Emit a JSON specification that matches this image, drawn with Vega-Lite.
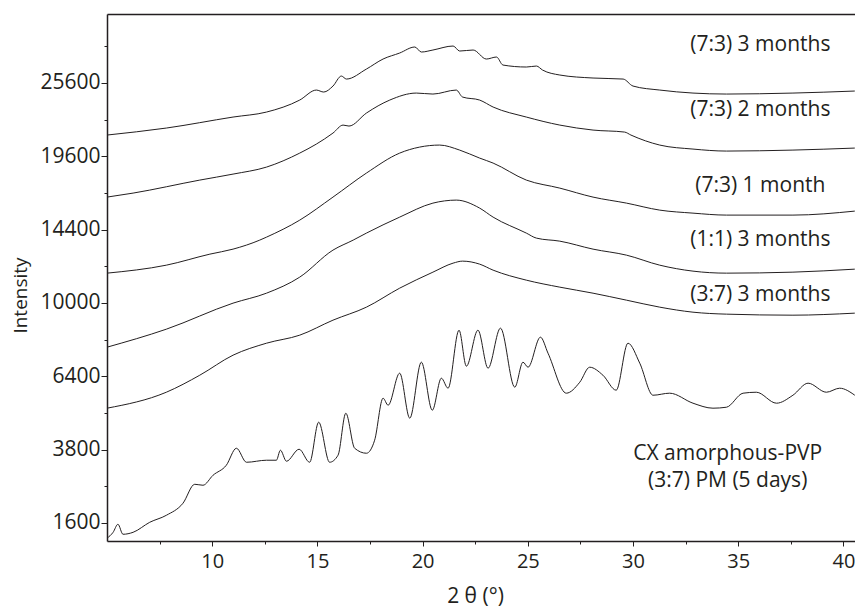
{
  "$schema": "https://vega.github.io/schema/vega-lite/v6.json",
  "width": 748,
  "height": 527,
  "autosize": "none",
  "padding": {"left": 107, "top": 14, "right": 0, "bottom": 67},
  "config": {"view": {"stroke": null}, "font": "Open Sans"},
  "datasets": {
    "curves": [
      {"series":"A","x":5,"y":21255},{"series":"A","x":7.82,"y":21815},{"series":"A","x":10.99,"y":22710},{"series":"A","x":12.58,"y":23122},{"series":"A","x":14.16,"y":24128},{"series":"A","x":14.95,"y":24983},{"series":"A","x":15.3,"y":24812},{"series":"A","x":15.74,"y":25329},{"series":"A","x":16.14,"y":26205},{"series":"A","x":16.38,"y":25940},{"series":"A","x":17.33,"y":26827},{"series":"A","x":18.12,"y":27729},{"series":"A","x":18.91,"y":28278},{"series":"A","x":19.63,"y":28832},{"series":"A","x":19.94,"y":28369},{"series":"A","x":20.49,"y":28554},{"series":"A","x":21.45,"y":28924},{"series":"A","x":21.76,"y":28460},{"series":"A","x":22.4,"y":28554},{"series":"A","x":23.03,"y":27729},{"series":"A","x":23.51,"y":27912},{"series":"A","x":23.82,"y":27185},{"series":"A","x":24.93,"y":27008},{"series":"A","x":25.41,"y":27096},{"series":"A","x":25.7,"y":26739},{"series":"A","x":26.52,"y":26296},{"series":"A","x":28.1,"y":26031},{"series":"A","x":29.53,"y":25940},{"series":"A","x":30,"y":25329},{"series":"A","x":31.27,"y":24983},{"series":"A","x":32.85,"y":24724},{"series":"A","x":34.44,"y":24640},{"series":"A","x":37.6,"y":24724},{"series":"A","x":40.54,"y":24898},
      {"series":"B","x":5,"y":16607},{"series":"B","x":6.24,"y":16890},{"series":"B","x":9.41,"y":17825},{"series":"B","x":10.99,"y":18263},{"series":"B","x":12.58,"y":18783},{"series":"B","x":14.16,"y":19844},{"series":"B","x":14.95,"y":20543},{"series":"B","x":15.74,"y":21412},{"series":"B","x":16.22,"y":22055},{"series":"B","x":16.5,"y":21975},{"series":"B","x":17.33,"y":23040},{"series":"B","x":18.44,"y":24128},{"series":"B","x":19.7,"y":24724},{"series":"B","x":20.49,"y":24640},{"series":"B","x":21.6,"y":24983},{"series":"B","x":21.9,"y":24383},{"series":"B","x":22.71,"y":24128},{"series":"B","x":23.35,"y":23541},{"series":"B","x":24.93,"y":22710},{"series":"B","x":26.52,"y":22055},{"series":"B","x":28.1,"y":21653},{"series":"B","x":29.6,"y":21492},{"series":"B","x":29.9,"y":21255},{"series":"B","x":31.27,"y":20466},{"series":"B","x":32.85,"y":20155},{"series":"B","x":34.44,"y":20000},{"series":"B","x":37.6,"y":20076},{"series":"B","x":40.54,"y":20232},
      {"series":"C","x":5,"y":11692},{"series":"C","x":7.82,"y":12168},{"series":"C","x":9.89,"y":12841},{"series":"C","x":10.99,"y":13151},{"series":"C","x":12.26,"y":13722},{"series":"C","x":12.58,"y":13912},{"series":"C","x":14.16,"y":15028},{"series":"C","x":15.74,"y":16607},{"series":"C","x":17.33,"y":18339},{"series":"C","x":18.91,"y":19844},{"series":"C","x":19.86,"y":20309},{"series":"C","x":20.81,"y":20466},{"series":"C","x":21.76,"y":20076},{"series":"C","x":22.71,"y":19463},{"series":"C","x":23.35,"y":19085},{"series":"C","x":24.93,"y":17825},{"series":"C","x":26.52,"y":17245},{"series":"C","x":28.1,"y":16607},{"series":"C","x":29.69,"y":16187},{"series":"C","x":31.27,"y":15705},{"series":"C","x":32.85,"y":15500},{"series":"C","x":34.44,"y":15366},{"series":"C","x":37.6,"y":15366},{"series":"C","x":40.54,"y":15638},
      {"series":"D","x":5,"y":7733},{"series":"D","x":7.82,"y":8621},{"series":"D","x":10.99,"y":9990},{"series":"D","x":12.58,"y":10541},{"series":"D","x":14.16,"y":11458},{"series":"D","x":15.74,"y":13090},{"series":"D","x":16.7,"y":13722},{"series":"D","x":17.33,"y":14173},{"series":"D","x":18.91,"y":15230},{"series":"D","x":20.49,"y":16187},{"series":"D","x":21.6,"y":16397},{"series":"D","x":22.71,"y":15843},{"series":"D","x":23.35,"y":15230},{"series":"D","x":24.93,"y":14173},{"series":"D","x":25.41,"y":13849},{"series":"D","x":26.52,"y":13656},{"series":"D","x":28.1,"y":13151},{"series":"D","x":29.69,"y":12778},{"series":"D","x":31.27,"y":12168},{"series":"D","x":32.85,"y":11811},{"series":"D","x":34.44,"y":11692},{"series":"D","x":37.6,"y":11751},{"series":"D","x":40.54,"y":11929},
      {"series":"E","x":5,"y":5084},{"series":"E","x":7.82,"y":5724},{"series":"E","x":9.41,"y":6448},{"series":"E","x":10.99,"y":7355},{"series":"E","x":12.58,"y":7926},{"series":"E","x":14.16,"y":8321},{"series":"E","x":15.74,"y":9084},{"series":"E","x":17.33,"y":9773},{"series":"E","x":18.91,"y":10824},{"series":"E","x":20.49,"y":11751},{"series":"E","x":21.45,"y":12290},{"series":"E","x":21.9,"y":12412},{"series":"E","x":22.71,"y":12230},{"series":"E","x":23.35,"y":11870},{"series":"E","x":24.93,"y":11283},{"series":"E","x":26.52,"y":10881},{"series":"E","x":28.1,"y":10541},{"series":"E","x":29.69,"y":10153},{"series":"E","x":31.27,"y":9773},{"series":"E","x":32.85,"y":9504},{"series":"E","x":34.44,"y":9399},{"series":"E","x":37.6,"y":9345},{"series":"E","x":40.54,"y":9452},
      {"series":"F","x":5,"y":1284},{"series":"F","x":5.29,"y":1403},{"series":"F","x":5.52,"y":1572},{"series":"F","x":5.76,"y":1363},{"series":"F","x":6.24,"y":1403},{"series":"F","x":7.03,"y":1615},{"series":"F","x":7.82,"y":1772},{"series":"F","x":8.61,"y":2059},{"series":"F","x":9.17,"y":2556},{"series":"F","x":9.56,"y":2529},{"series":"F","x":10.04,"y":2811},{"series":"F","x":10.67,"y":3107},{"series":"F","x":11.15,"y":3646},{"series":"F","x":11.63,"y":3199},{"series":"F","x":12.58,"y":3262},{"series":"F","x":13.05,"y":3262},{"series":"F","x":13.24,"y":3581},{"series":"F","x":13.53,"y":3231},{"series":"F","x":14.13,"y":3613},{"series":"F","x":14.63,"y":3199},{"series":"F","x":15.06,"y":4554},{"series":"F","x":15.58,"y":3199},{"series":"F","x":15.98,"y":3419},{"series":"F","x":16.35,"y":4890},{"series":"F","x":16.77,"y":3646},{"series":"F","x":17.33,"y":3483},{"series":"F","x":17.72,"y":3915},{"series":"F","x":18.12,"y":5480},{"series":"F","x":18.36,"y":5201},{"series":"F","x":18.91,"y":6537},{"series":"F","x":19.39,"y":4702},{"series":"F","x":19.94,"y":7031},{"series":"F","x":20.46,"y":5006},{"series":"F","x":20.89,"y":6317},{"series":"F","x":21.21,"y":5891},{"series":"F","x":21.73,"y":8571},{"series":"F","x":22.08,"y":6849},{"series":"F","x":22.63,"y":8571},{"series":"F","x":23.11,"y":6758},{"series":"F","x":23.7,"y":8673},{"series":"F","x":24.38,"y":5934},{"series":"F","x":24.77,"y":7031},{"series":"F","x":25.01,"y":6803},{"series":"F","x":25.6,"y":8221},{"series":"F","x":25.96,"y":7448},{"series":"F","x":26.83,"y":5684},{"series":"F","x":27.47,"y":6145},{"series":"F","x":27.94,"y":6803},{"series":"F","x":28.57,"y":6448},{"series":"F","x":29.2,"y":5808},{"series":"F","x":29.76,"y":7926},{"series":"F","x":30.32,"y":6986},{"series":"F","x":30.95,"y":5601},{"series":"F","x":31.74,"y":5684},{"series":"F","x":32.85,"y":5280},{"series":"F","x":33.8,"y":5084},{"series":"F","x":34.44,"y":5122},{"series":"F","x":35.23,"y":5684},{"series":"F","x":35.86,"y":5724},{"series":"F","x":36.82,"y":5280},{"series":"F","x":37.6,"y":5601},{"series":"F","x":38.32,"y":6103},{"series":"F","x":39.19,"y":5724},{"series":"F","x":39.82,"y":5891},{"series":"F","x":40.54,"y":5601}
    ],
    "labels": [
      {"label":"(7:3) 3 months","x":36.05,"y":29016},
      {"label":"(7:3) 2 months","x":36.05,"y":23290},
      {"label":"(7:3) 1 month","x":36.05,"y":17390},
      {"label":"(1:1) 3 months","x":36.05,"y":13722},
      {"label":"(3:7) 3 months","x":36.05,"y":10431},
      {"label":"CX amorphous-PVP","x":34.5,"y":3452},
      {"label":"(3:7) PM (5 days)","x":34.5,"y":2640}
    ]
  },
  "layer": [
    {
      "data": {"name": "curves"},
      "mark": {"type": "line", "strokeWidth": 1, "color": "#231f20", "clip": true, "interpolate": "monotone"},
      "encoding": {
        "x": {
          "field": "x", "type": "quantitative",
          "scale": {"domain": [5, 40.55], "nice": false, "zero": false},
          "axis": {
            "orient": "bottom",
            "values": [7.5, 10, 12.5, 15, 17.5, 20, 22.5, 25, 27.5, 30, 32.5, 35, 37.5, 40],
            "labelExpr": "datum.value % 5 == 0 ? datum.label : ''",
            "tickSize": {"condition": {"test": "datum.value % 5 == 0", "value": 5}, "value": 3},
            "title": "2 θ (°)",
            "titleX": 368,
            "grid": false,
            "domainColor": "#231f20", "domainWidth": 1.5,
            "tickColor": "#231f20",
            "labelColor": "#231f20", "labelFontSize": 20, "labelPadding": 5, "labelFont": "Open Sans",
            "titleColor": "#231f20", "titleFontSize": 21, "titleFontWeight": "normal", "titleFont": "Open Sans",
            "titlePadding": 14
          }
        },
        "y": {
          "field": "y", "type": "quantitative",
          "scale": {"type": "sqrt", "domain": [1231, 31970], "nice": false, "zero": false},
          "axis": {
            "orient": "left",
            "values": [1600, 2500, 3600, 4900, 6400, 8100, 10000, 12100, 14400, 16900, 19600, 22500, 25600, 28900],
            "format": "d",
            "labelExpr": "sqrt(datum.value) % 20 == 10 ? '' : (datum.value == 3600 ? '3800' : datum.label)",
            "tickSize": {"condition": {"test": "sqrt(datum.value) % 20 == 10", "value": 3}, "value": 6},
            "title": "Intensity",
            "titleX": -87,
            "titleY": 281,
            "titleBaseline": "middle",
            "titleAlign": "center",
            "titleAngle": -90,
            "grid": false,
            "domainColor": "#231f20", "domainWidth": 1.5,
            "tickColor": "#231f20",
            "labelColor": "#231f20", "labelFontSize": 21, "labelPadding": 1, "labelFont": "Open Sans",
            "titleColor": "#231f20", "titleFontSize": 19, "titleFontWeight": "normal", "titleFont": "Open Sans"
          }
        },
        "detail": {"field": "series", "type": "nominal"}
      }
    },
    {
      "data": {"name": "labels"},
      "mark": {"type": "text", "fontSize": 21, "font": "Open Sans", "color": "#231f20", "align": "center", "baseline": "middle"},
      "encoding": {
        "x": {
          "field": "x", "type": "quantitative",
          "scale": {"domain": [5, 40.55], "nice": false, "zero": false},
          "axis": {"orient": "top", "labels": false, "ticks": false, "title": null, "grid": false, "domainColor": "#231f20", "domainWidth": 1.5}
        },
        "y": {"field": "y", "type": "quantitative"},
        "text": {"field": "label"}
      }
    }
  ],
  "resolve": {"axis": {"x": "independent"}}
}
